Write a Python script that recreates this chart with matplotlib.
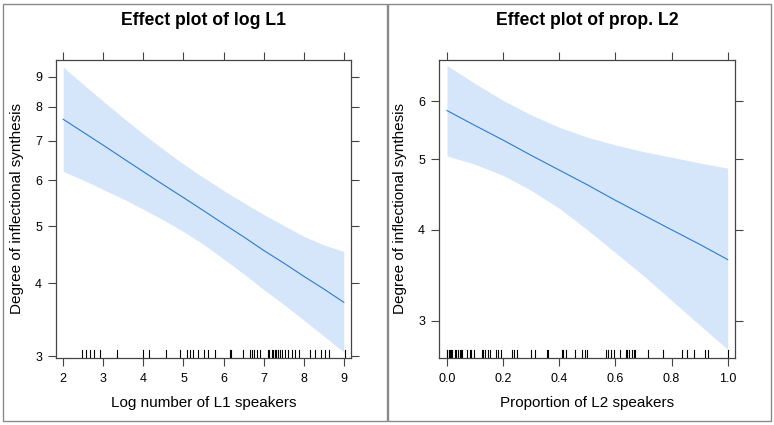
import numpy as np
import matplotlib
matplotlib.use('Agg')
import matplotlib.pyplot as plt
from matplotlib.patches import Rectangle
from matplotlib.ticker import FixedLocator, NullLocator

plt.rcParams['font.family'] = ['Liberation Sans', 'DejaVu Sans']

# ---- data ----
# left panel: log number of L1 speakers
l1_x = [2, 2.5, 3, 3.5, 4, 4.5, 5, 5.5, 6, 6.5, 7, 7.5, 8, 8.5, 9]
l1_fit = [7.62, 7.24, 6.88, 6.53, 6.20, 5.89, 5.60, 5.32, 5.05, 4.80, 4.55,
          4.33, 4.11, 3.91, 3.71]
l1_upper = [9.36, 8.74, 8.18, 7.66, 7.19, 6.77, 6.39, 6.06, 5.76, 5.49, 5.24,
            5.02, 4.81, 4.65, 4.53]
l1_lower = [6.21, 6.00, 5.78, 5.57, 5.35, 5.13, 4.90, 4.66, 4.40, 4.15, 3.90,
            3.68, 3.46, 3.25, 3.05]
l1_rug = [2.47, 2.56, 2.68, 2.78, 2.93, 3.34, 4.0, 4.14, 4.56, 4.92, 5.09, 5.16,
          5.25, 5.37, 5.50, 5.62, 5.79, 6.16, 6.19, 6.49, 6.66, 6.72, 6.77, 6.83,
          6.91, 7.10, 7.14, 7.20, 7.24, 7.28, 7.32, 7.37, 7.41, 7.45, 7.53, 7.61,
          7.72, 7.78, 7.88, 8.15, 8.28, 8.42, 8.53, 8.64, 9.02]

# right panel: proportion of L2 speakers
l2_x = [0.0, 0.1, 0.2, 0.3, 0.4, 0.5, 0.6, 0.7, 0.8, 0.9, 1.0]
l2_fit = [5.83, 5.56, 5.31, 5.06, 4.83, 4.61, 4.39, 4.19, 4.00, 3.82, 3.64]
l2_upper = [6.72, 6.35, 6.02, 5.75, 5.53, 5.36, 5.23, 5.12, 5.03, 4.94, 4.86]
l2_lower = [5.05, 4.92, 4.75, 4.53, 4.28, 4.00, 3.72, 3.46, 3.20, 2.96, 2.74]
l2_rug = [0.0, 0.001, 0.006, 0.010, 0.015, 0.019, 0.027, 0.033, 0.039, 0.045,
          0.051, 0.055, 0.073, 0.081, 0.087, 0.095, 0.123, 0.129, 0.135, 0.146,
          0.152, 0.176, 0.182, 0.194, 0.232, 0.238, 0.251, 0.298, 0.313, 0.357,
          0.361, 0.408, 0.414, 0.424, 0.456, 0.480, 0.492, 0.500, 0.568, 0.574,
          0.586, 0.595, 0.615, 0.636, 0.642, 0.649, 0.660, 0.667, 0.669, 0.717,
          0.770, 0.838, 0.854, 0.881, 0.919, 0.931, 1.0]

l1_xticks = [2, 3, 4, 5, 6, 7, 8, 9]
l1_yticks = [3, 4, 5, 6, 7, 8, 9]
l2_xticks = [0.0, 0.2, 0.4, 0.6, 0.8, 1.0]
l2_xlabels = ['0.0', '0.2', '0.4', '0.6', '0.8', '1.0']
l2_yticks = [3, 4, 5, 6]

band_col = '#d6e6fa'
line_col = '#2b7bd0'
frame_col = '#444444'

fig = plt.figure(figsize=(7.74, 4.25), dpi=100)

# outer frames around each panel
fig.patches.append(Rectangle((3 / 774, 4 / 425), 384 / 774, 417 / 425, transform=fig.transFigure,
                             fill=False, edgecolor='#8a8a8a', linewidth=1.0))
fig.patches.append(Rectangle((388 / 774, 4 / 425), 383 / 774, 417 / 425, transform=fig.transFigure,
                             fill=False, edgecolor='#8a8a8a', linewidth=1.0))


def panel(ax, x, fit, lo, hi, rug, xlim, ylim, xticks, xlabels, yticks, title, xlab):
	ax.fill_between(x, lo, hi, color=band_col, linewidth=0)
	ax.plot(x, fit, color=line_col, linewidth=0.8)
	ax.set_yscale('log')
	ax.set_xlim(xlim)
	ax.set_ylim(ylim)
	# rug along the bottom
	for r in rug:
		ax.plot([r, r], [0, 0.028], transform=ax.get_xaxis_transform(), color='black', linewidth=0.8)
	ax.yaxis.set_major_locator(FixedLocator(yticks))
	ax.yaxis.set_minor_locator(NullLocator())
	ax.set_yticklabels([str(t) for t in yticks])
	ax.set_xticks(xticks)
	ax.set_xticklabels(xlabels)
	ax.tick_params(axis='both', which='both', direction='out', length=5.5, width=0.8,
	               color=frame_col, labelsize=9, top=True, right=True,
	               labeltop=False, labelright=False)
	ax.tick_params(axis='x', pad=5)
	ax.tick_params(axis='y', pad=4.5)
	for s in ax.spines.values():
		s.set_color(frame_col)
		s.set_linewidth(0.9)
	ax.set_title(title, fontsize=12.7, fontweight='bold', pad=25.5)
	ax.set_xlabel(xlab, fontsize=11, labelpad=8)
	ax.set_ylabel('Degree of inflectional synthesis', fontsize=11, labelpad=8)


ax1 = fig.add_axes([56 / 774, 1 - 358 / 425, 295 / 774, 298 / 425])
panel(ax1, l1_x, l1_fit, l1_lower, l1_upper, l1_rug, (1.82, 9.18), (2.98, 9.62),
      l1_xticks, [str(t) for t in l1_xticks], l1_yticks,
      'Effect plot of log L1', 'Log number of L1 speakers')

ax2 = fig.add_axes([439 / 774, 1 - 358 / 425, 296 / 774, 298 / 425])
panel(ax2, l2_x, l2_fit, l2_lower, l2_upper, l2_rug, (-0.0285, 1.026), (2.667, 6.84),
      l2_xticks, l2_xlabels, l2_yticks,
      'Effect plot of prop. L2', 'Proportion of L2 speakers')

fig.savefig('out.png', dpi=100)
